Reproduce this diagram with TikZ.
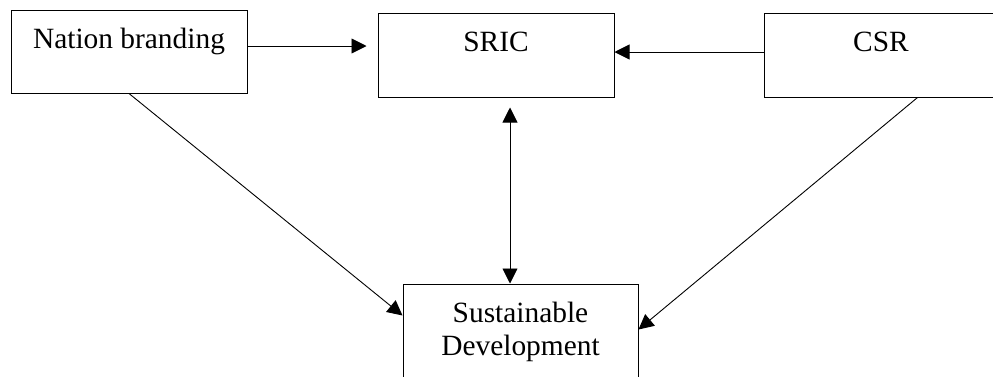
\documentclass[tikz,border=0pt]{standalone}
\usepackage{fontspec}
\setmainfont{Liberation Serif}
\usetikzlibrary{arrows.meta}
\begin{document}
\begin{tikzpicture}[x=1pt,y=-1pt,
  box/.style={draw, line width=1pt, inner sep=0pt, minimum width=236pt,
    minimum height=84pt, text height=38pt, text depth=46pt, align=center,
    font=\fontsize{29.4}{32.5}\selectfont},
  tip/.style={Triangle[length=15pt,width=15pt]},
  link/.style={line width=0.9pt, -{Triangle[length=15pt,width=15pt]}},
  both/.style={line width=0.9pt, {Triangle[length=15pt,width=15pt]}-{Triangle[length=15pt,width=15pt]}}]
  \useasboundingbox (0,0) rectangle (993,376);
  \clip (0,0) rectangle (993,376);

  % the four boxes
  \node[box, minimum height=83pt, text height=38pt, text depth=45pt] (nb) at (129,51.5) {Nation branding};
  \node[box] (sric) at (496,55) {SRIC};
  \node[box, minimum width=234pt] (csr) at (881,55) {CSR};
  \node[box, minimum width=235pt, minimum height=116pt, text height=71pt, text depth=45pt] (sd) at (520.5,342) {Sustainable\\Development};

  % influences on SRIC
  \draw[link, shorten >=11pt] ([yshift=5.5pt]nb.east) -- ([yshift=5.5pt]nb.east -| sric.west);
  \draw[link] ([yshift=3pt]csr.west) -- ([yshift=3pt]csr.west -| sric.east);

  % SRIC and sustainable development
  \draw[both, shorten <=10pt] ([xshift=14pt]sric.south) -- ([xshift=14pt]sric.south |- sd.north);

  % influences on sustainable development
  \draw[link] (nb.south) -- ([yshift=-32pt]sd.north west);
  \draw[link] ([xshift=154pt]csr.south west) -- ([yshift=-46pt]sd.north east);
\end{tikzpicture}
\end{document}
